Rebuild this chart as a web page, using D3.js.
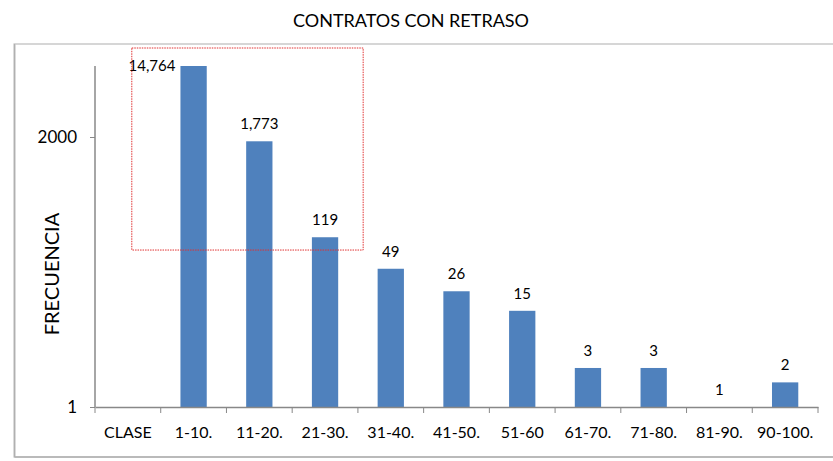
<!DOCTYPE html>
<html>
<head>
<meta charset="utf-8">
<script src="https://cdn.jsdelivr.net/npm/d3@7"></script>
<style>
  body { margin: 0; background: #fff; }
  svg { display: block; font-family: Lato, "Open Sans", sans-serif; }
</style>
</head>
<body>
<svg id="chart" width="833" height="461"></svg>
<script>
const categories = ["CLASE", "1-10.", "11-20.", "21-30.", "31-40.", "41-50.", "51-60", "61-70.", "71-80.", "81-90.", "90-100."];
const values = [null, 14764, 1773, 119, 49, 26, 15, 3, 3, 1, 2];
const valueLabels = ["", "14,764", "1,773", "119", "49", "26", "15", "3", "3", "1", "2"];
const yTicks = [1, 2000];
const title = "CONTRATOS CON RETRASO";
const yTitle = "FRECUENCIA";

const svg = d3.select("#chart");
const W = 833, H = 461;
const margin = { left: 95, right: 15, top: 66, bottom: 54 };
const plotW = W - margin.left - margin.right;
const plotH = H - margin.top - margin.bottom;

// outer frame
svg.append("rect")
  .attr("x", 14.5).attr("y", 44).attr("width", W + 10).attr("height", 457 - 44)
  .attr("fill", "none").attr("stroke", "#d6d6d6").attr("stroke-width", 2);
svg.append("line").attr("x1", 14.5).attr("x2", 14.5).attr("y1", 44).attr("y2", 457)
  .attr("stroke", "#b0b0b0").attr("stroke-width", 1.5);
svg.append("line").attr("x1", 14.5).attr("x2", W).attr("y1", 457).attr("y2", 457)
  .attr("stroke", "#b0b0b0").attr("stroke-width", 1.5);

const x = d3.scaleBand().domain(categories)
  .range([margin.left, margin.left + plotW]).paddingInner(0.6).paddingOuter(0.3);
const xEdge = d3.scaleBand().domain(categories).range([margin.left, margin.left + plotW]);
const y = d3.scaleLog().domain([1, d3.max(values.filter(v => v != null))])
  .range([margin.top + plotH, margin.top]);

// title
svg.append("text").attr("x", 411).attr("y", 27).attr("text-anchor", "middle")
  .attr("font-size", 18).attr("fill", "#000").text(title);

// y axis title
svg.append("text").attr("transform", `translate(59,274) rotate(-90)`)
  .attr("text-anchor", "middle").attr("font-size", 20).attr("fill", "#000").text(yTitle);

const rows = categories.map((c, i) => ({ c, v: values[i], l: valueLabels[i] })).filter(d => d.v != null);

// bars
svg.append("g").selectAll("rect")
  .data(rows)
  .join("rect")
  .attr("x", d => x(d.c)).attr("width", x.bandwidth())
  .attr("y", d => y(d.v)).attr("height", d => y(1) - y(d.v))
  .attr("fill", "#4f81bd");

// value labels
svg.append("g").selectAll("text")
  .data(rows)
  .join("text")
  .attr("font-size", 15).attr("fill", "#000")
  .each(function(d) {
    const t = d3.select(this);
    if (y(d.v) - 12 < margin.top + 10) {
      t.attr("x", x(d.c) - 5).attr("y", y(d.v) + 5).attr("text-anchor", "end");
    } else {
      t.attr("x", x(d.c) + x.bandwidth() / 2).attr("y", y(d.v) - 12).attr("text-anchor", "middle");
    }
  })
  .text(d => d.l);

// y axis
const yAxis = svg.append("g").attr("transform", `translate(${margin.left},0)`)
  .call(d3.axisLeft(y).tickValues(yTicks).tickFormat(d3.format("d")).tickSize(5).tickPadding(13));
yAxis.select(".domain").attr("stroke", "#888").attr("stroke-width", 1.5).attr("d", `M0,${margin.top}V${margin.top + plotH}`);
yAxis.selectAll(".tick line").attr("stroke", "#888");
yAxis.selectAll(".tick text").attr("font-size", 17).attr("fill", "#000").attr("font-family", "Lato, sans-serif");

// x axis
const xAxis = svg.append("g").attr("transform", `translate(0,${margin.top + plotH})`)
  .call(d3.axisBottom(xEdge).tickSize(0).tickPadding(20));
xAxis.select(".domain").attr("stroke", "#888").attr("stroke-width", 1.5);
xAxis.selectAll(".tick text").attr("font-size", 16).attr("fill", "#000").attr("font-family", "Lato, sans-serif");
xAxis.selectAll(".edge").data(categories.concat(["__end"])).join("line")
  .attr("class", "edge")
  .attr("x1", (d, i) => i < categories.length ? xEdge(d) : margin.left + plotW)
  .attr("x2", (d, i) => i < categories.length ? xEdge(d) : margin.left + plotW)
  .attr("y1", 0).attr("y2", 6).attr("stroke", "#888");

// red dotted highlight box (annotation), placed in data coordinates
const hl = { from: "CLASE", fromFrac: 0.56, to: "21-30.", toFrac: 1.08, yLow: 83, yHigh: 24500 };
svg.append("rect")
  .attr("x", xEdge(hl.from) + hl.fromFrac * xEdge.bandwidth())
  .attr("y", y(hl.yHigh))
  .attr("width", (xEdge(hl.to) + hl.toFrac * xEdge.bandwidth()) - (xEdge(hl.from) + hl.fromFrac * xEdge.bandwidth()))
  .attr("height", y(hl.yLow) - y(hl.yHigh))
  .attr("fill", "none").attr("stroke", "#e03030").attr("stroke-width", 1)
  .attr("stroke-dasharray", "1.5,1");
</script>
</body>
</html>
